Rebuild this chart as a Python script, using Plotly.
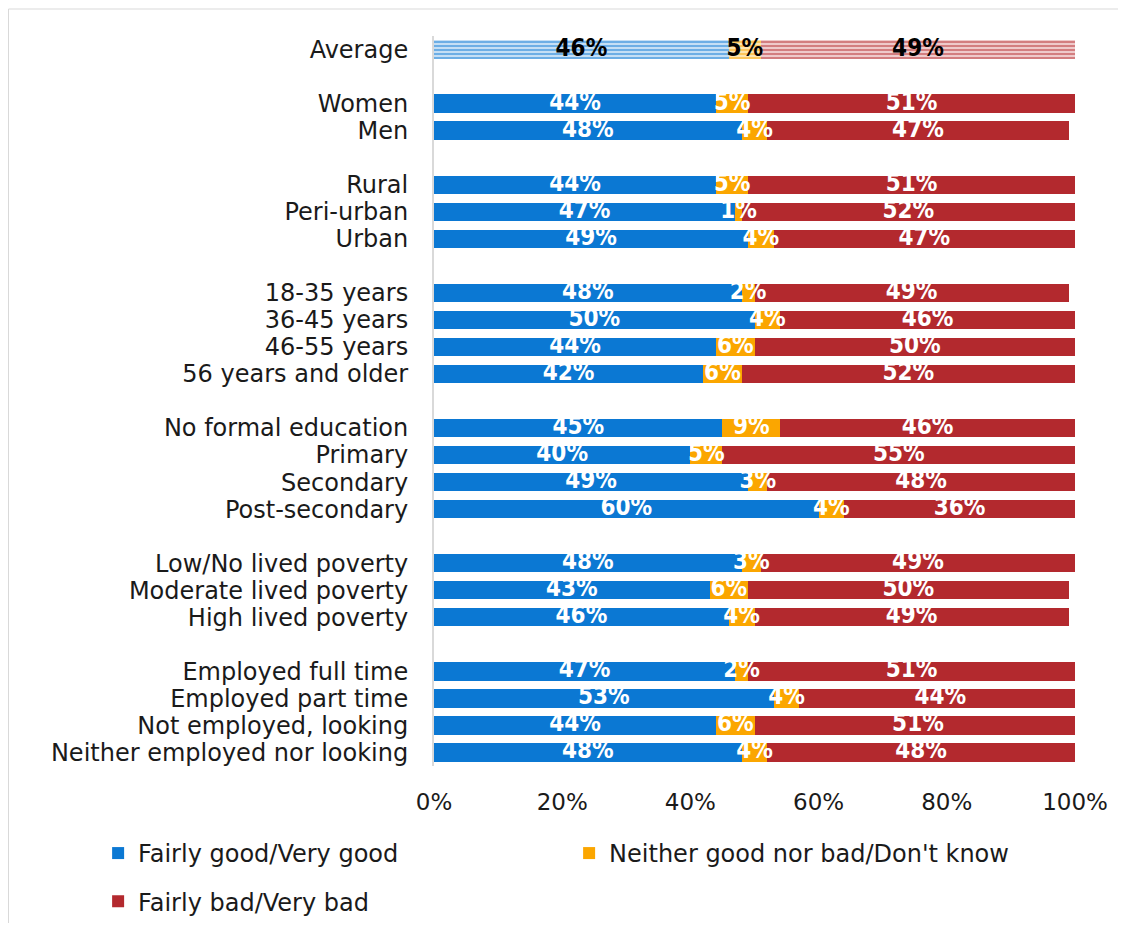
import plotly.graph_objects as go

# ── Data ──────────────────────────────────────────────────────────────────────
GROUPS = [
    ["Average"],
    ["Women", "Men"],
    ["Rural", "Peri-urban", "Urban"],
    ["18-35 years", "36-45 years", "46-55 years", "56 years and older"],
    ["No formal education", "Primary", "Secondary", "Post-secondary"],
    ["Low/No lived poverty", "Moderate lived poverty", "High lived poverty"],
    ["Employed full time", "Employed part time", "Not employed, looking",
     "Neither employed nor looking"],
]

good = [46, 44, 48, 44, 47, 49, 48, 50, 44, 42, 45, 40, 49, 60, 48, 43, 46, 47, 53, 44, 48]
neither = [5, 5, 4, 5, 1, 4, 2, 4, 6, 6, 9, 5, 3, 4, 3, 6, 4, 2, 4, 6, 4]
bad = [49, 51, 47, 51, 52, 47, 49, 46, 50, 52, 46, 55, 48, 36, 49, 50, 49, 51, 44, 51, 48]

SERIES = ["Fairly good/Very good", "Neither good nor bad/Don't know", "Fairly bad/Very bad"]

# ── Style ─────────────────────────────────────────────────────────────────────
COLORS = ["#0B78D3", "#FBA600", "#B3292E"]
LIGHT = ["#CFE5F7", "#FDE8B8", "#F2D2D3"]
FONT = "'DejaVu Sans', sans-serif"
LABEL_FONT = "'DejaVu Sans Condensed', 'DejaVu Sans', sans-serif"
BAR_W = 0.68
LEGENDS = ["legend", "legend", "legend2"]

# row positions: one empty slot between groups
labels, ypos = [], []
pos = 0
for g in GROUPS:
    for lab in g:
        labels.append(lab)
        ypos.append(pos)
        pos += 1
    pos += 1

values = [good, neither, bad]
fig = go.Figure()

# regular rows (everything but the average)
for k, (name, vals) in enumerate(zip(SERIES, values)):
    fig.add_trace(go.Bar(
        x=vals[1:], y=ypos[1:], orientation="h", name=name,
        marker=dict(color=COLORS[k], line=dict(width=0)),
        width=BAR_W, hoverinfo="x+name", legend=LEGENDS[k],
    ))

# average row with striped fill
for k, (name, vals) in enumerate(zip(SERIES, values)):
    fig.add_trace(go.Bar(
        x=[vals[0]], y=[ypos[0]], orientation="h", name=name,
        marker=dict(color=LIGHT[k], line=dict(width=0),
                    pattern=dict(shape="-", fgcolor=COLORS[k], bgcolor=LIGHT[k],
                                 size=4, solidity=0.55)),
        width=BAR_W, showlegend=False, hoverinfo="x+name",
    ))

# segment labels, centred in each segment
tx, ty, tt, tc = [], [], [], []
for i in range(len(labels)):
    left = 0
    for vals in values:
        v = vals[i]
        tx.append(left + v / 2)
        ty.append(ypos[i])
        tt.append(f"{v}%")
        tc.append("black" if i == 0 else "white")
        left += v
fig.add_trace(go.Scatter(
    x=tx, y=ty, mode="text", text=tt, showlegend=False, hoverinfo="skip",
    textfont=dict(family=LABEL_FONT, size=24, color=tc, weight="bold"),
    textposition="middle center",
))

# page has an 8px body margin, so figure coords = screen coords - 8
fig.update_layout(
    width=1110, height=915,
    paper_bgcolor="white", plot_bgcolor="white",
    barmode="stack", bargap=0,
    margin=dict(l=426, r=43, t=28, b=157, autoexpand=False),
    font=dict(family=FONT, size=24, color="#1a1a1a"),
    xaxis=dict(range=[0, 100], tickvals=[0, 20, 40, 60, 80, 100],
               ticktext=["0%", "20%", "40%", "60%", "80%", "100%"],
               showgrid=False, zeroline=False, showline=False,
               tickfont=dict(size=23), ticks="", ticklabelstandoff=20),
    yaxis=dict(range=[ypos[-1] + 0.5, -0.5], tickvals=ypos, ticktext=labels,
               showgrid=False, zeroline=False, showline=True,
               linecolor="#d9d9d9", linewidth=2, ticks="", ticklabelstandoff=19,
               tickfont=dict(size=24)),
    legend=dict(orientation="h", x=-0.524, y=-0.089, xanchor="left", yanchor="top",
                entrywidth=426, entrywidthmode="pixels", traceorder="normal",
                font=dict(size=24), itemwidth=30),
    legend2=dict(orientation="h", x=-0.524, y=-0.155, xanchor="left", yanchor="top",
                 font=dict(size=24), itemwidth=30),
    shapes=[dict(type="rect", xref="paper", yref="paper",
                 x0=(0.5 - 426) / 641, x1=(1117 - 426) / 641,
                 y0=(758 - 940) / 730, y1=1 + 27 / 730,
                 line=dict(color="#d9d9d9", width=1), layer="below")],
)

fig.write_html("out.html")
